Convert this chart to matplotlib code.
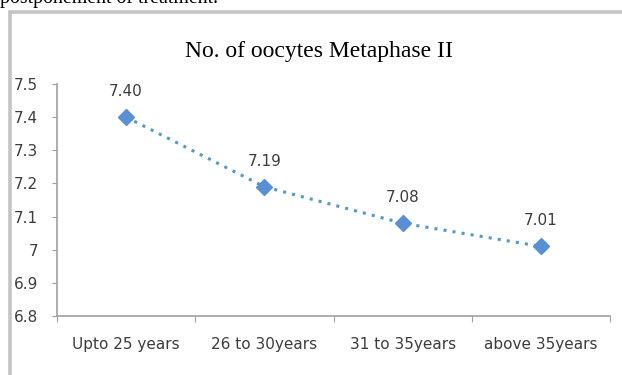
import matplotlib.pyplot as plt
from matplotlib.patches import Rectangle

categories = ["Upto 25 years", "26 to 30years", "31 to 35years", "above 35years"]
values = [7.40, 7.19, 7.08, 7.01]
yticks = [6.8, 6.9, 7.0, 7.1, 7.2, 7.3, 7.4, 7.5]
ytick_labels = ["6.8", "6.9", "7", "7.1", "7.2", "7.3", "7.4", "7.5"]

W, H = 622, 375
fig = plt.figure(figsize=(W / 100, H / 100), dpi=100)

# cut-off text from the page above the chart
fig.text(0.0, 1 - 3.5 / H, "postponement of treatment.", family="Liberation Serif",
         fontsize=14.3, va="baseline", ha="left", color="black")

# chart frame (extends past the right/bottom edges)
fig.patches.append(Rectangle((9.5 / W, -0.1), 1.2, 1 - 12 / H + 0.1,
                             transform=fig.transFigure, fill=False,
                             edgecolor="#c4c4c4", linewidth=2.6))

ax = fig.add_axes([57 / W, 1 - 316 / H, (610 - 57) / W, (316 - 84) / H])
x = range(len(categories))
ax.plot(x, values, linestyle=(0, (1, 2)), linewidth=2.2, color="#5599bb", zorder=2)
ax.plot(x, values, linestyle="none", marker="D", markersize=8,
        color="#5b8fd3", zorder=3)
for xi, v in zip(x, values):
    ax.annotate(f"{v:.2f}", (xi, v), xytext=(0, 13), textcoords="offset points",
                ha="center", va="bottom", fontsize=11, family="DejaVu Sans",
                color="#3c3c3c")

ax.set_xlim(-0.5, len(categories) - 0.5)
ax.set_ylim(6.8, 7.5)
ax.set_yticks(yticks)
ax.set_yticklabels(ytick_labels)
ax.set_xticks([i - 0.5 for i in range(len(categories) + 1)], minor=False)
ax.set_xticklabels([])
ax.set_xticks(list(x), minor=True)
ax.set_xticklabels(categories, minor=True)
ax.tick_params(axis="x", which="major", length=4, color="#a0a0a0", direction="out")
ax.tick_params(axis="x", which="minor", length=0, pad=15, labelsize=11,
               labelcolor="#3c3c3c")
ax.tick_params(axis="y", length=3.5, color="#a0a0a0", pad=10, labelsize=11,
               labelcolor="#3c3c3c")

for side in ["top", "right"]:
    ax.spines[side].set_visible(False)
for side in ["left", "bottom"]:
    ax.spines[side].set_color("#a0a0a0")
    ax.spines[side].set_linewidth(1.2)

fig.text(319 / W, 1 - 57 / H, "No. of oocytes Metaphase II", family="Liberation Serif",
         fontsize=17, ha="center", va="baseline", color="black")

fig.savefig("out.png", dpi=100)
